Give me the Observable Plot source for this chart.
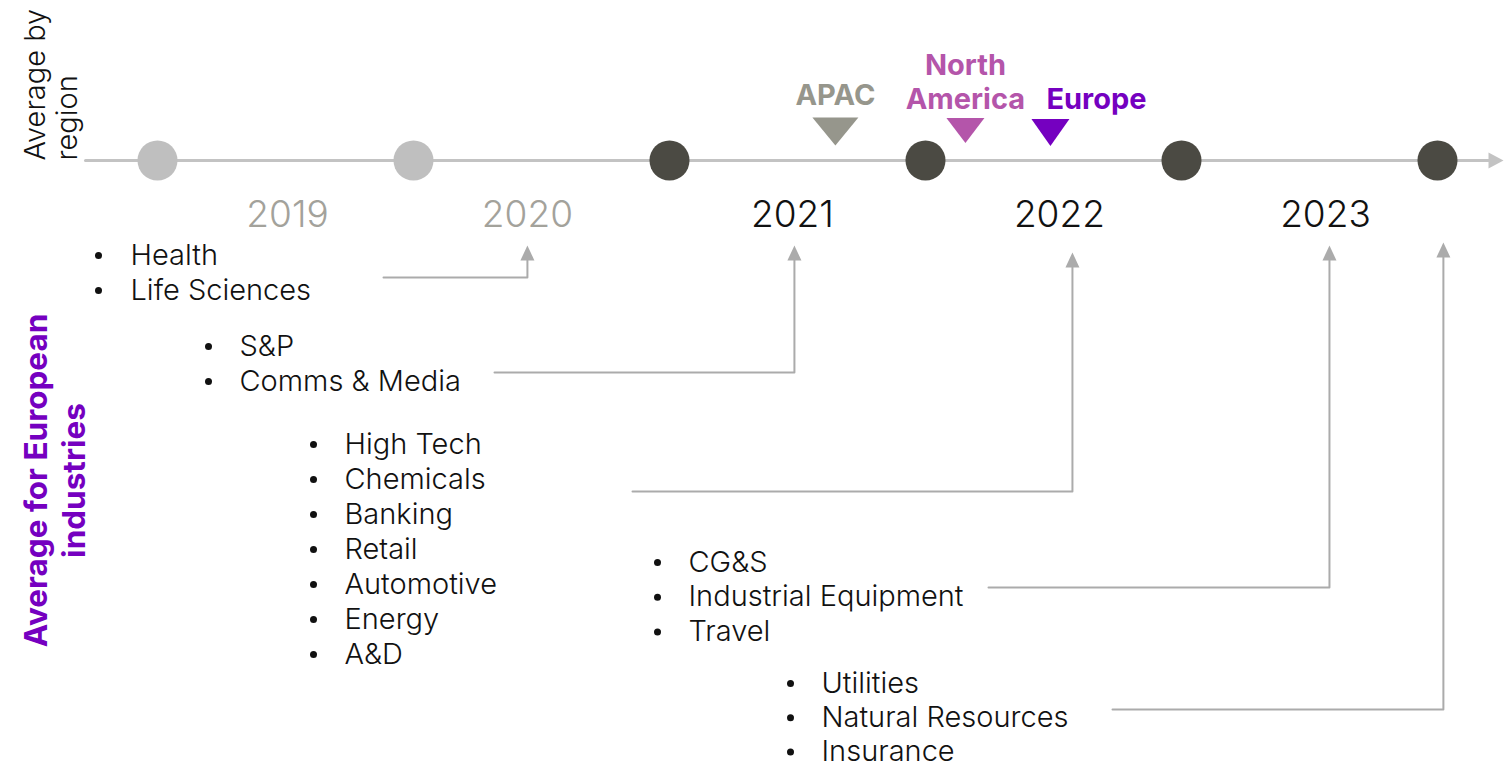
<!DOCTYPE html>
<html>
<head>
<meta charset="utf-8">
<script src="https://cdn.jsdelivr.net/npm/d3@7"></script>
<script src="https://cdn.jsdelivr.net/npm/@observablehq/plot@0.6"></script>
<style>
  html, body { margin: 0; padding: 0; background: #fff; }
  #chart svg { display: block; }
</style>
</head>
<body>
<div id="chart"></div>
<script>
// ---------------- DATA ----------------
const yearLabels = ["2019", "2020", "2021", "2022", "2023"];
const yearLabelPos = [2019.508, 2020.445, 2021.48, 2022.523, 2023.5625];
const milestones = [2019, 2020, 2021, 2022, 2023, 2024];
const milestonePast = [true, true, false, false, false, false];

const regionNames = ["APAC", "North\nAmerica", "Europe"];
const regionAvg = [2021.648, 2022.156, 2022.488];

const industryGroups = [
  ["Health", "Life Sciences"],
  ["S&P", "Comms & Media"],
  ["High Tech", "Chemicals", "Banking", "Retail", "Automotive", "Energy", "A&D"],
  ["CG&S", "Industrial Equipment", "Travel"],
  ["Utilities", "Natural Resources", "Insurance"]
];
const industryAvg = [2020.445, 2021.488, 2022.574, 2023.578, 2024.023];

// ---------------- LAYOUT (pixels -> scale domain) ----------------
const W = 1509, H = 764;
const PX_PER_YEAR = 256, X_ORIGIN_PX = 157, X_ORIGIN_YEAR = 2019;
const xu = px => X_ORIGIN_YEAR + (px - X_ORIGIN_PX) / PX_PER_YEAR;

const axisY = 160;
const axisStart = xu(85), axisEnd = xu(1490), axisTip = xu(1503);
const groupBulletPx = [98, 208, 313, 657, 790];
const groupTextPx = [130, 239, 344, 688, 821];
const groupTopY = [255, 346, 444, 562, 683];
const rowStep = [35, 35, 35, 34.7, 34.2];
const connStartPx = [383, 494, 632, 988, 1112];
const connY = [277, 372, 491, 587, 709];
const arrowTipY = [245, 245, 252, 245, 242];
const regionColors = ["#96968c", "#b455aa", "#7500c0"];
const regionTriY = [131, 130, 132];
const regionTriW = [46, 38, 38], regionTriH = [28, 25, 27];
const regionLabelY = [104, 108, 108];
const europeLabelDxPx = -4;

const FONT = "Inter, 'Open Sans', sans-serif";

// custom symbols
const triDown = (w, h) => ({ draw(ctx) { ctx.moveTo(-w/2, -h/2); ctx.lineTo(w/2, -h/2); ctx.lineTo(0, h/2); ctx.closePath(); } });
const triUp = (w, h) => ({ draw(ctx) { ctx.moveTo(-w/2, h/2); ctx.lineTo(w/2, h/2); ctx.lineTo(0, -h/2); ctx.closePath(); } });
const triRight = (w, h) => ({ draw(ctx) { ctx.moveTo(-w/2, -h/2); ctx.lineTo(w/2, 0); ctx.lineTo(-w/2, h/2); ctx.closePath(); } });

// ---------------- DERIVED TABLES ----------------
const milestoneData = milestones.map((m, i) => ({ x: m, past: milestonePast[i] }));
const yearData = yearLabels.map((t, i) => ({ x: yearLabelPos[i], label: t, past: i < 2 }));
const regionData = regionNames.map((n, i) => ({
  name: n, x: regionAvg[i], color: regionColors[i], triY: regionTriY[i], labelY: regionLabelY[i],
  w: regionTriW[i], h: regionTriH[i]
}));
const items = industryGroups.flatMap((g, gi) => g.map((name, k) => ({
  name, group: gi,
  xb: xu(groupBulletPx[gi]), xt: xu(groupTextPx[gi]),
  y: groupTopY[gi] + k * rowStep[gi]
})));
const connectors = industryGroups.flatMap((g, gi) => [
  { g: gi, x: xu(connStartPx[gi]), y: connY[gi] },
  { g: gi, x: industryAvg[gi], y: connY[gi] },
  { g: gi, x: industryAvg[gi], y: arrowTipY[gi] + 12 }
]);
const heads = industryAvg.map((a, gi) => ({ x: a, y: arrowTipY[gi] + 7.5 }));

const regionFont = { fontSize: 29, fontWeight: 700, fontFamily: FONT, lineAnchor: "bottom", lineHeight: 1.15 };

const marks = [
  // timeline
  Plot.line([{ x: axisStart, y: axisY }, { x: axisEnd, y: axisY }], { x: "x", y: "y", stroke: "#c3c3c3", strokeWidth: 3 }),
  Plot.dot([{ x: axisTip, y: axisY }], { x: d => d.x - 7.5 / PX_PER_YEAR, y: "y", symbol: triRight(15, 16), fill: "#c3c3c3", stroke: "none" }),
  Plot.dot(milestoneData, { x: "x", y: () => axisY, r: 20, fill: d => d.past ? "#bfbfbf" : "#4b4a43", stroke: "none" }),
  // year labels
  Plot.text(yearData, { x: "x", y: () => 215, text: "label", fontSize: 37, fontWeight: 300, fontFamily: FONT,
    fill: d => d.past ? "#a3a29b" : "#111", textAnchor: "middle", lineAnchor: "middle" }),
  // region triangles and labels
  ...regionData.map(r => Plot.dot([r], { x: "x", y: "triY", symbol: triDown(r.w, r.h), fill: r.color, stroke: "none" })),
  Plot.text(regionData.slice(0, 2), { x: "x", y: "labelY", text: "name", fill: "color", textAnchor: "middle", ...regionFont }),
  Plot.text(regionData.slice(2), { x: "x", y: "labelY", text: "name", fill: "color", textAnchor: "start", dx: europeLabelDxPx, ...regionFont }),
  // connectors
  Plot.line(connectors, { x: "x", y: "y", z: "g", stroke: "#ababab", strokeWidth: 2, curve: "linear" }),
  Plot.dot(heads, { x: "x", y: "y", symbol: triUp(14, 15), fill: "#ababab", stroke: "none" }),
  // bullet lists
  Plot.dot(items, { x: "xb", y: "y", r: 3.5, fill: "#111", stroke: "none" }),
  Plot.text(items, { x: "xt", y: "y", text: "name", fontSize: 29, fontWeight: 300, fontFamily: FONT, fill: "#111",
    textAnchor: "start", lineAnchor: "middle" }),
  // side titles
  Plot.text(["Average by\nregion"], { x: () => xu(50), y: () => 160, text: d => d, rotate: -90, fontSize: 29, fontWeight: 300,
    fontFamily: FONT, fill: "#111", textAnchor: "start", lineAnchor: "middle", lineHeight: 1.1 }),
  Plot.text(["Average for European\nindustries"], { x: () => xu(53), y: () => 480, text: d => d, rotate: -90, fontSize: 31.5, fontWeight: 700,
    fontFamily: FONT, fill: "#7500c0", textAnchor: "middle", lineAnchor: "middle", lineHeight: 1.2 })
];

const chart = Plot.plot({
  width: W, height: H, margin: 0,
  x: { domain: [xu(0), xu(W)], range: [0, W], axis: null },
  y: { domain: [0, H], range: [0, H], axis: null },
  style: { background: "#fff", overflow: "visible" },
  marks
});
document.getElementById("chart").appendChild(chart);
</script>
</body>
</html>
